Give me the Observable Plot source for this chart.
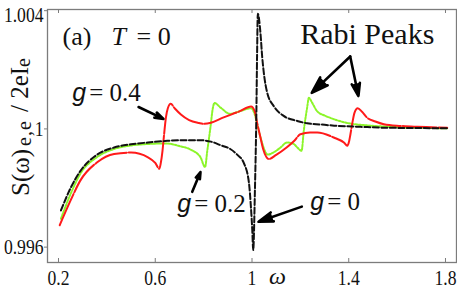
<!DOCTYPE html>
<html><head><meta charset="utf-8">
<script src="https://cdn.jsdelivr.net/npm/d3@7"></script>
<script src="https://cdn.jsdelivr.net/npm/@observablehq/plot@0.6"></script>
<style>
body{margin:0;background:#fff;}
svg text{font-family:"Liberation Serif","Times New Roman",serif;}
</style></head><body><div id="chart"></div>
<script>
// g = 0 (black dashed)
const w0 = [0.21,0.25,0.29,0.36,0.43,0.50,0.57,0.64,0.71,0.78,0.83,0.87,0.91,0.94,0.966,0.987,0.996,1.001,1.005,1.012,1.018,1.021,1.024,1.035,1.042,1.049,1.063,1.09,1.131,1.187,1.228,1.283,1.34,1.45,1.55,1.68,1.81];
const s0 = [0.99724,0.99800,0.99857,0.99913,0.99937,0.99948,0.99954,0.99959,0.99962,0.99962,0.99957,0.99945,0.99932,0.99912,0.99885,0.99820,0.99730,0.99660,0.99590,0.99790,1.00050,1.00250,1.00390,1.00324,1.00245,1.00189,1.00122,1.00077,1.00044,1.00027,1.00019,1.00015,1.00011,1.00007,1.00004,1.00003,1.00002];
// g = 0.2 (green dotted)
const w2 = [0.21,0.25,0.29,0.36,0.43,0.50,0.57,0.64,0.70,0.746,0.787,0.806,0.815,0.828,0.838,0.845,0.87,0.91,0.95,0.996,1.011,1.025,1.039,1.053,1.065,1.088,1.115,1.145,1.17,1.19,1.205,1.214,1.228,1.235,1.249,1.269,1.304,1.338,1.407,1.476,1.545,1.683,1.807];
const s2 = [0.99696,0.99780,0.99848,0.99905,0.99932,0.99944,0.99949,0.99951,0.99942,0.99930,0.99904,0.99871,0.99925,1.00004,1.00070,1.00088,1.00072,1.00051,1.00060,1.00070,1.00050,1.00004,0.99960,0.99926,0.99913,0.99920,0.99935,0.99954,0.99950,0.99935,0.99926,0.99993,1.00072,1.00105,1.00088,1.00060,1.00044,1.00033,1.00018,1.00012,1.00008,1.00004,1.00002];
// g = 0.4 (red)
const w4 = [0.205,0.25,0.29,0.36,0.43,0.50,0.57,0.60,0.617,0.623,0.630,0.637,0.644,0.652,0.664,0.68,0.706,0.74,0.78,0.80,0.83,0.88,0.95,0.996,1.011,1.021,1.035,1.046,1.06,1.069,1.10,1.143,1.175,1.20,1.24,1.27,1.338,1.38,1.394,1.402,1.407,1.414,1.424,1.437,1.455,1.476,1.51,1.545,1.614,1.683,1.807];
const s4 = [0.99674,0.99758,0.99825,0.99887,0.99915,0.99920,0.99904,0.99885,0.99865,0.99885,0.99926,0.99985,1.00038,1.00070,1.00085,1.00070,1.00049,1.00030,1.00020,1.00017,1.00021,1.00038,1.00060,1.00076,1.00060,1.00021,0.99971,0.99932,0.99904,0.99898,0.99912,0.99937,0.99960,0.99982,0.99988,0.99988,0.99971,0.99954,0.99943,0.99960,0.99982,1.00016,1.00055,1.00070,1.00058,1.00038,1.00025,1.00016,1.00010,1.00007,1.00004];

const xTicks = [0.2, 0.6, 1, 1.4, 1.8];
const xTickLabels = ["0.2", "0.6", "1", "1.4", "1.8"];
const yTicks = [0.996, 1, 1.004];
const yTickLabels = ["0.996", "1", "1.004"];
const xLabel = "ω";
const yLabel = "S(ω)e,e / 2eIe";

// annotations
const titleText = ["(a) T = 0"], titleX = [0.2165], titleY = [1.00313];
const rabiText = ["Rabi Peaks"], rabiX = [1.1992], rabiY = [1.00321];
const gText = ["g = 0.4", "g = 0.2", "g = 0"];
const gX = [0.2566, 0.6907, 1.2405];
const gY = [1.00121, 0.99747, 0.99752];
const arrX1 = [0.531, 0.753, 1.206, 1.406, 1.406];
const arrY1 = [1.00074, 0.99787, 0.99737, 1.00245, 1.00245];
const arrX2 = [0.634, 0.787, 1.027, 1.247, 1.440];
const arrY2 = [1.00034, 0.99854, 0.99686, 1.00122, 1.00111];

const toRows = (w, s) => w.map((x, i) => ({w: x, s: s[i]}));
const d0 = toRows(w0, s0), d2 = toRows(w2, s2), d4 = toRows(w4, s4);
const idx = a => a.map((_, i) => i);

const serif = "Liberation Serif";
const gray = "#7c7c7c";

const chart = Plot.plot({
  width: 457, height: 306,
  marginLeft: 47, marginRight: 1, marginTop: 9, marginBottom: 44,
  x: {domain: [0.1545, 1.8455]},
  y: {domain: [0.99548, 1.00404]},
  style: {fontFamily: serif, background: "#fff"},
  marks: [
    Plot.line(d2, {x: "w", y: "s", stroke: "#8cf52a", strokeWidth: 2, strokeDasharray: "2,1.4", curve: "monotone-x"}),
    Plot.line(d4, {x: "w", y: "s", stroke: "#ff1a1a", strokeWidth: 2, strokeDasharray: "34,2", curve: "monotone-x"}),
    Plot.line(d0, {x: "w", y: "s", stroke: "#111", strokeWidth: 2, strokeDasharray: "6,2.5", curve: "monotone-x"}),
    Plot.frame({stroke: gray, strokeWidth: 1.3}),
    Plot.ruleX(xTicks, {x: d => d, insetTop: 249, stroke: gray, strokeWidth: 1}),
    Plot.ruleX(xTicks, {x: d => d, insetBottom: 249, stroke: gray, strokeWidth: 1}),
    Plot.axisX({ticks: xTicks, tickSize: 0, tickPadding: 7, fontSize: 22, label: null, fontFamily: serif,
      tickFormat: d => xTickLabels[xTicks.indexOf(d)], fill: "#111"}),
    Plot.axisY({ticks: yTicks, tickSize: 3, tickPadding: 1, fontSize: 22, label: null, stroke: gray, fontFamily: serif,
      tickFormat: d => yTickLabels[yTicks.indexOf(d)], fill: "#111"}),
    Plot.text([xLabel], {x: [1.105], frameAnchor: "bottom", dy: 21, fontSize: 24, fontStyle: "italic", fontFamily: serif, fill: "#111"}),
    Plot.text([yLabel], {frameAnchor: "left", rotate: -90, textAnchor: "middle", lineAnchor: "middle", dx: -27, dy: -9, fontSize: 25, fontFamily: serif, fill: "#111"}),
    Plot.text(idx(titleText), {x: i => titleX[i], y: i => titleY[i], text: i => titleText[i], textAnchor: "start", fontSize: 26, fontFamily: serif, fill: "#111"}),
    Plot.text(idx(rabiText), {x: i => rabiX[i], y: i => rabiY[i], text: i => rabiText[i], textAnchor: "start", fontSize: 30, fontFamily: serif, fill: "#111"}),
    Plot.text(idx(gText), {x: i => gX[i], y: i => gY[i], text: i => gText[i], textAnchor: "start", fontSize: 25, fontFamily: serif, fill: "#111"}),
    Plot.arrow(idx(arrX1), {x1: i => arrX1[i], y1: i => arrY1[i], x2: i => arrX2[i], y2: i => arrY2[i],
      stroke: "#000", fill: "#000", strokeWidth: 2.6, headLength: 11, headAngle: 36})
  ]
});
document.getElementById("chart").appendChild(chart);

// post-process text styling (mixed fonts, subscripts, condensed tick labels)
const svg = d3.select(chart);
const serifCss = '"Liberation Serif", "Times New Roman", serif';
const sansCss = '"Liberation Sans", Arial, sans-serif';
svg.selectAll("text").style("font-family", serifCss);
svg.selectAll('g[aria-label="x-axis tick label"] text, g[aria-label="y-axis tick label"] text').each(function () {
  const t = this.getAttribute("transform");
  const shift = this.textContent === "1.004" ? " translate(0,4)" : "";
  if (t) this.setAttribute("transform", t + shift + " scale(0.8,1)");
});
svg.selectAll("text").each(function () {
  const s = this.textContent;
  const el = d3.select(this);
  if (s === yLabel) {
    el.text(null);
    el.append("tspan").text("S(ω)");
    el.append("tspan").attr("font-size", "0.8em").attr("dx", 3).attr("dy", "0.1em").style("letter-spacing", "1px").text("e,e");
    el.append("tspan").attr("dy", "-0.1em").attr("dx", 2).text(" / 2eI");
    el.append("tspan").attr("font-size", "0.8em").attr("dy", "0.1em").text("e");
  } else if (s === titleText[0]) {
    el.text(null);
    el.append("tspan").text("(a)");
    el.append("tspan").attr("x", 49).attr("font-style", "italic").text("T");
    el.append("tspan").attr("x", 74).text("= 0");
  } else if (gText.includes(s)) {
    el.text(null);
    el.append("tspan").style("font-family", sansCss).attr("font-style", "italic").text("g");
    el.append("tspan").attr("x", 17).text(s.slice(2));
  }
});
</script></body></html>
